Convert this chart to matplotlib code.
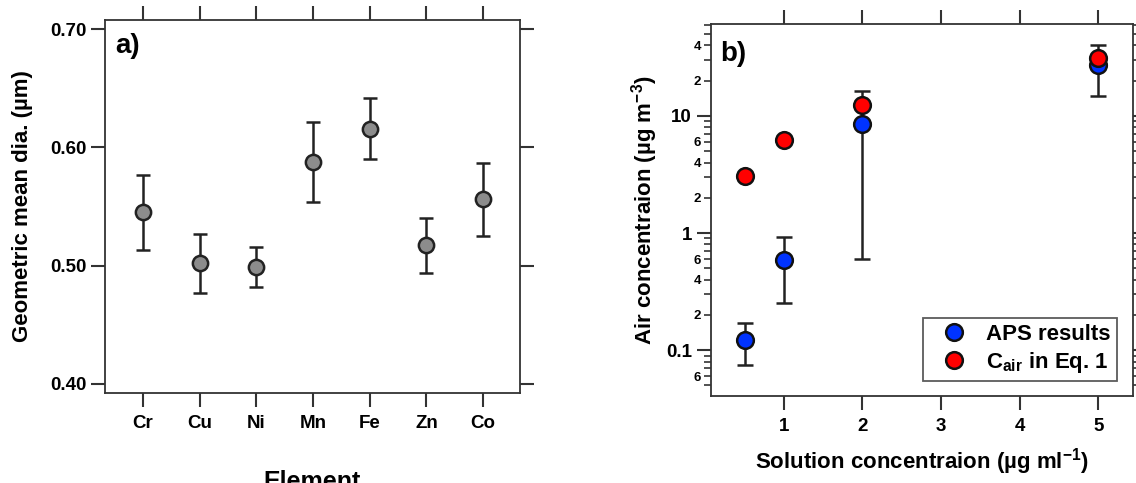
import numpy as np
import matplotlib
matplotlib.use("Agg")
import matplotlib.pyplot as plt
from matplotlib.ticker import LogLocator, FixedLocator, FuncFormatter

plt.rcParams['font.family'] = ['Liberation Sans', 'DejaVu Sans']
plt.rcParams['font.weight'] = 'bold'
plt.rcParams['mathtext.default'] = 'regular'

# panel a data
elements = ['Cr', 'Cu', 'Ni', 'Mn', 'Fe', 'Zn', 'Co']
gmd = [0.545, 0.502, 0.499, 0.588, 0.616, 0.517, 0.556]
gmd_err = [0.032, 0.025, 0.017, 0.034, 0.026, 0.023, 0.031]
a_yticks = [0.40, 0.50, 0.60, 0.70]

# panel b data
sol_conc = [0.5, 1, 2, 5]
aps = [0.1225, 0.589, 8.5, 27.5]
aps_err = [0.048, 0.335, 7.9, 12.8]
c_air = [3.1, 6.2, 12.4, 31.0]
b_xticks = [1, 2, 3, 4, 5]

fig = plt.figure(figsize=(11.36, 4.83), dpi=100)
ax1 = fig.add_axes([0.0924, 0.1863, 0.3653, 0.7723])
ax2 = fig.add_axes([0.6256, 0.1801, 0.3718, 0.7702])

edge = '#333333'
for ax in (ax1, ax2):
    for sp in ax.spines.values():
        sp.set_color(edge)
        sp.set_linewidth(1.3)
    ax.tick_params(which='major', direction='out', length=10, width=1.5, color=edge,
                   top=True, right=True, labelsize=13.5)
    ax.tick_params(which='minor', direction='out', length=5, width=1.2, color=edge,
                   top=False, right=True)

# ---- a)
xa = np.arange(len(elements))
ax1.errorbar(xa, gmd, yerr=gmd_err, fmt='o', ms=11, mfc='#8c8c8c', mec='#222222', mew=1.8,
             ecolor='#222222', elinewidth=1.8, capsize=5, capthick=1.8, zorder=3)
ax1.set_xlim(-0.67, 6.65)
ax1.set_ylim(0.392, 0.708)
ax1.set_xticks(xa)
ax1.set_xticklabels(elements)
ax1.set_yticks(a_yticks)
ax1.set_yticklabels(['%.2f' % v for v in a_yticks])
ax1.tick_params(axis='x', pad=6)
ax1.set_ylabel('Geometric mean dia. (µm)', fontsize=16, fontweight='bold', labelpad=12)
ax1.set_xlabel('Element', fontsize=18, fontweight='bold', labelpad=27)
ax1.text(0.025, 0.965, 'a)', transform=ax1.transAxes, fontsize=20, fontweight='bold', va='top')

# ---- b)
ax2.set_yscale('log')
ax2.errorbar(sol_conc, aps, yerr=aps_err, fmt='none', ecolor='#222222', elinewidth=1.8,
             capsize=6, capthick=1.8, zorder=2)
ax2.plot(sol_conc, aps, 'o', ms=12, mfc='#0033ff', mec='#111111', mew=1.8, zorder=3,
         label='APS results')
ax2.plot(sol_conc, c_air, 'o', ms=12, mfc='#ff0000', mec='#111111', mew=1.8, zorder=4,
         label='C$_{air}$ in Eq. 1')
ax2.set_xlim(0.07, 5.44)
ax2.set_ylim(0.0406, 61)
ax2.set_xticks(b_xticks)
ax2.tick_params(axis='x', pad=6)
ax2.yaxis.set_major_locator(FixedLocator([0.1, 1, 10]))
ax2.yaxis.set_major_formatter(FuncFormatter(lambda v, p: '%g' % v))
ax2.yaxis.set_minor_locator(LogLocator(base=10, subs=np.arange(2, 10), numticks=20))


def minor_fmt(v, p):
    if v > 50:
        return ''
    d = int(round(v / 10 ** np.floor(np.log10(v) + 1e-9)))
    return str(d) if d in (2, 4, 6) else ''


ax2.yaxis.set_minor_formatter(FuncFormatter(minor_fmt))
ax2.tick_params(axis='y', which='minor', labelsize=9.5, pad=2)
ax2.set_ylabel('Air concentraion (µg m$^{-3}$)', fontsize=16, fontweight='bold', labelpad=4)
ax2.set_xlabel('Solution concentraion (µg ml$^{-1}$)', fontsize=16, fontweight='bold', labelpad=8)
ax2.text(0.022, 0.955, 'b)', transform=ax2.transAxes, fontsize=20, fontweight='bold', va='top')
leg = ax2.legend(loc='lower right', fontsize=16, frameon=True, fancybox=False,
                 edgecolor='#333333', handlelength=2.2, handletextpad=0.37,
                 borderpad=0.27, labelspacing=0.25, borderaxespad=0,
                 bbox_to_anchor=(0.962, 0.040))
leg.get_frame().set_linewidth(1.3)

fig.savefig('out.png', dpi=100)
